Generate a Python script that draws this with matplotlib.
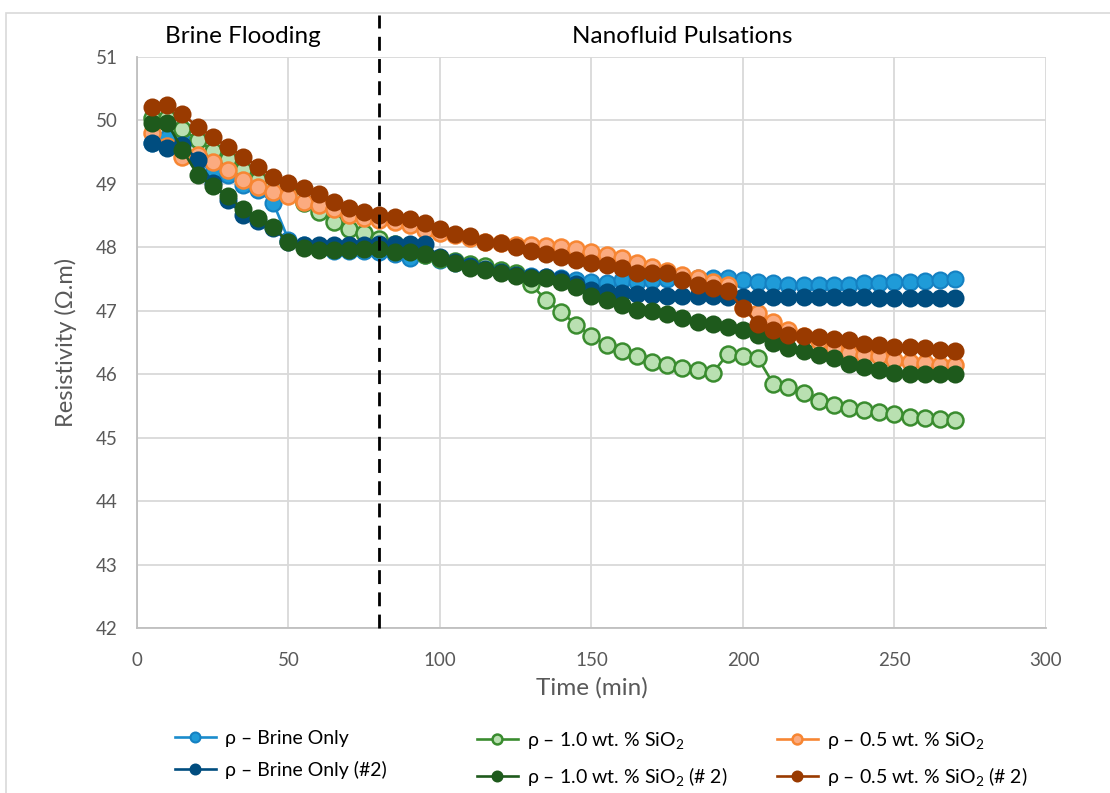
import numpy as np
import matplotlib.pyplot as plt
from matplotlib.patches import Rectangle

plt.rcParams['font.family'] = ['Lato', 'DejaVu Sans']
plt.rcParams['mathtext.fontset'] = 'custom'
plt.rcParams['mathtext.rm'] = 'Lato'
plt.rcParams['mathtext.it'] = 'Lato:italic'

# time (min), one reading every 5 min
time = list(range(5, 275, 5))

brine = [49.65, 49.72, 49.68, 49.38, 49.17, 49.14, 48.98, 48.90, 48.70, 48.12,
         48.04, 47.97, 47.95, 47.95, 47.95, 47.92, 47.90, 47.83, 47.88, 47.80,
         47.75, 47.70, 47.66, 47.62, 47.57, 47.55, 47.54, 47.52, 47.48, 47.45,
         47.44, 47.49, 47.46, 47.49, 47.50, 47.50, 47.52, 47.51, 47.52, 47.49,
         47.46, 47.44, 47.40, 47.40, 47.41, 47.41, 47.41, 47.44, 47.44, 47.45,
         47.46, 47.47, 47.49, 47.50]
brine2 = [49.65, 49.57, 49.62, 49.38, 49.02, 48.75, 48.51, 48.42, 48.30, 48.08,
          48.04, 48.04, 48.04, 48.04, 48.04, 48.05, 48.05, 48.05, 48.05, 47.85,
          47.77, 47.70, 47.66, 47.61, 47.56, 47.54, 47.53, 47.50, 47.42, 47.33,
          47.30, 47.28, 47.26, 47.25, 47.24, 47.24, 47.23, 47.23, 47.22, 47.22,
          47.22, 47.22, 47.22, 47.22, 47.22, 47.21, 47.21, 47.21, 47.20, 47.20,
          47.20, 47.20, 47.20, 47.20]
sio2_10 = [50.04, 50.04, 49.87, 49.69, 49.52, 49.40, 49.22, 49.06, 48.98, 48.85,
           48.70, 48.56, 48.40, 48.29, 48.23, 48.13, 48.05, 47.97, 47.88, 47.82,
           47.78, 47.73, 47.70, 47.65, 47.60, 47.42, 47.17, 46.98, 46.78, 46.60,
           46.46, 46.37, 46.28, 46.20, 46.15, 46.10, 46.07, 46.02, 46.32, 46.29,
           46.25, 45.85, 45.80, 45.70, 45.58, 45.52, 45.47, 45.43, 45.41, 45.37,
           45.33, 45.31, 45.30, 45.28]
sio2_05 = [49.80, 49.60, 49.42, 49.46, 49.35, 49.22, 49.06, 48.95, 48.87, 48.81,
           48.72, 48.67, 48.60, 48.51, 48.46, 48.43, 48.40, 48.35, 48.28, 48.22,
           48.20, 48.15, 48.09, 48.07, 48.04, 48.03, 48.02, 48.01, 47.97, 47.93,
           47.88, 47.83, 47.76, 47.69, 47.62, 47.57, 47.52, 47.46, 47.40, 47.05,
           46.97, 46.83, 46.70, 46.60, 46.52, 46.42, 46.34, 46.31, 46.28, 46.23,
           46.20, 46.18, 46.15, 46.15]
sio2_10b = [49.96, 49.96, 49.54, 49.14, 48.97, 48.81, 48.60, 48.46, 48.32, 48.08,
            47.99, 47.96, 47.96, 47.96, 47.97, 47.98, 47.93, 47.93, 47.90, 47.84,
            47.75, 47.68, 47.65, 47.60, 47.55, 47.52, 47.52, 47.46, 47.38, 47.24,
            47.17, 47.09, 47.02, 47.00, 46.95, 46.89, 46.83, 46.79, 46.74, 46.70,
            46.62, 46.50, 46.42, 46.36, 46.31, 46.26, 46.16, 46.12, 46.07, 46.02,
            46.01, 46.01, 46.01, 46.01]
sio2_05b = [50.21, 50.24, 50.10, 49.90, 49.74, 49.58, 49.43, 49.27, 49.11, 49.02,
            48.94, 48.84, 48.72, 48.62, 48.56, 48.51, 48.48, 48.45, 48.39, 48.29,
            48.21, 48.18, 48.09, 48.07, 48.01, 47.95, 47.90, 47.85, 47.80, 47.75,
            47.72, 47.67, 47.60, 47.60, 47.60, 47.49, 47.41, 47.36, 47.32, 47.04,
            46.80, 46.69, 46.62, 46.60, 46.59, 46.56, 46.54, 46.48, 46.46, 46.43,
            46.43, 46.41, 46.39, 46.36]

fig = plt.figure(figsize=(11.1, 7.93), dpi=100)
ax = fig.add_axes([0.1234, 0.208, 0.8189, 0.7201])

# chart border
fig.patches.append(Rectangle((0.005, -0.05), 1.2, 1.034, transform=fig.transFigure,
                             fill=False, edgecolor='#d9d9d9', linewidth=1.2))

ms = 11.5
lw = 1.9
h1, = ax.plot(time, brine, color='#1b8ccc', lw=lw, marker='o', ms=ms,
              mfc='#1f9bd8', mec='#1581c2', mew=1.5, label=u'\u03c1 \u2013 Brine Only')
h3, = ax.plot(time, sio2_10, color='#3a8c2f', lw=lw, marker='o', ms=ms,
              mfc='#b9e0b1', mec='#3a8c2f', mew=1.8, label=u'\u03c1 \u2013 1.0 wt. % SiO$_2$')
h5, = ax.plot(time, sio2_05, color='#f78633', lw=lw, marker='o', ms=ms,
              mfc='#fbab80', mec='#f78633', mew=1.8, label=u'\u03c1 \u2013 0.5 wt. % SiO$_2$')
h2, = ax.plot(time, brine2, color='#004d7f', lw=lw, marker='o', ms=ms,
              mfc='#004d7f', mec='#004d7f', mew=1.5, label=u'\u03c1 \u2013 Brine Only (#2)')
h4, = ax.plot(time, sio2_10b, color='#1e5a1c', lw=lw, marker='o', ms=ms,
              mfc='#1e5a1c', mec='#1e5a1c', mew=1.5, label=u'\u03c1 \u2013 1.0 wt. % SiO$_2$ (# 2)')
h6, = ax.plot(time, sio2_05b, color='#993a00', lw=lw, marker='o', ms=ms,
              mfc='#993a00', mec='#993a00', mew=1.5, label=u'\u03c1 \u2013 0.5 wt. % SiO$_2$ (# 2)')

ax.set_xlim(0, 300)
ax.set_ylim(42, 51)
ax.set_xticks(range(0, 301, 50))
ax.set_yticks(range(42, 52))
ax.grid(True, color='#d9d9d9', linewidth=1.3)
ax.set_axisbelow(True)
for s in ['top', 'right']:
    ax.spines[s].set_visible(False)
for s in ['left', 'bottom']:
    ax.spines[s].set_color('#bfbfbf')
    ax.spines[s].set_linewidth(1.3)
ax.tick_params(length=0, labelsize=13.5, labelcolor='#595959')
ax.tick_params(axis='x', pad=17)
ax.tick_params(axis='y', pad=14)
ax.set_xlabel('Time (min)', fontsize=17.5, color='#595959', labelpad=6)
ax.set_ylabel(u'Resistivity (\u03a9.m)', fontsize=17, color='#595959', labelpad=13)

# boundary between stages
ax.plot([80, 80], [42, 51.66], color='black', lw=2, ls=(0, (5, 3)), clip_on=False, zorder=10)
ax.text(35, 51.32, 'Brine Flooding', fontsize=17.5, ha='center', va='center')
ax.text(180, 51.32, 'Nanofluid Pulsations', fontsize=17.5, ha='center', va='center')

# legend: one column per fluid
for hs, x0 in [([h1, h2], 0.1577), ([h3, h4], 0.4297), ([h5, h6], 0.70)]:
    leg = fig.legend(handles=hs, loc='upper left', bbox_to_anchor=(x0, 0.080),
                     frameon=False, fontsize=14, markerscale=0.62, borderpad=0,
                     borderaxespad=0, handlelength=2.1, labelspacing=0.75,
                     handletextpad=0.45)

fig.savefig('out.png', dpi=100)
